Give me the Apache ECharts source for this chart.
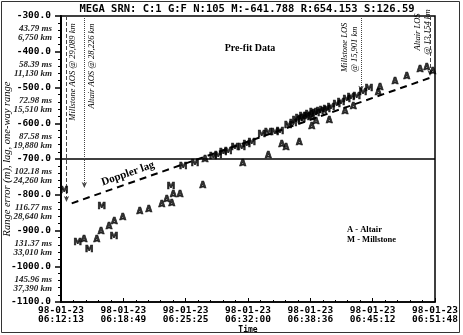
<!DOCTYPE html>
<html>
<head>
<meta charset="utf-8">
<script src="https://cdn.jsdelivr.net/npm/echarts@6/dist/echarts.min.js"></script>
<style>
  html, body { margin: 0; padding: 0; background: #fff; }
  #chart { width: 463px; height: 335px; }
</style>
</head>
<body>
<div id="chart"></div>
<script>
// x values are in tick intervals from 06:12:13 (one interval ~ 6 min 36 s)
const timeLabels = ['98-01-23\n06:12:13', '98-01-23\n06:18:49', '98-01-23\n06:25:25', '98-01-23\n06:32:00',
  '98-01-23\n06:38:36', '98-01-23\n06:45:12', '98-01-23\n06:51:48']
const yTicks = [-300, -400, -500, -600, -700, -800, -900, -1000, -1100]
const lagMs = ['43.79 ms', '58.39 ms', '72.98 ms', '87.58 ms', '102.18 ms', '116.77 ms', '131.37 ms', '145.96 ms']
const rangeKm = ['6,750 km', '11,130 km', '15,510 km', '19,880 km', '24,260 km', '28,640 km', '33,010 km', '37,390 km']

const altairX = [0.369, 0.573, 0.642, 0.770, 0.855, 0.990, 1.263, 1.407, 1.616, 1.696, 1.776, 1.802, 1.909,
  2.273, 2.310, 2.915, 3.326, 3.541, 3.610, 3.823, 4.022, 4.091, 4.304, 4.556, 4.690, 5.118, 5.091, 5.359,
  5.546, 5.760, 5.867, 5.963]
const altairY = [-927, -927, -904, -891, -876, -864, -848, -843, -827, -813, -824, -801, -799,
  -775, -703, -714, -691, -661, -668, -656, -610, -596, -594, -568, -554, -502, -516, -484,
  -470, -451, -445, -456]

const millstoneX = [0.053, 0.268, 0.454, 0.653, 0.850, 1.765, 1.962, 2.150, 2.443, 2.524, 2.604, 2.684, 2.792,
  2.899, 2.979, 3.059, 3.220, 3.326, 3.433, 3.513, 3.647, 3.727, 3.770, 3.818, 3.862, 3.883, 3.942, 3.979,
  4.011, 4.048, 4.091, 4.155, 4.203, 4.263, 4.332, 4.423, 4.492, 4.584, 4.653, 4.744, 4.845, 4.941]
const millstoneY = [-789, -934, -953, -835, -919, -779, -723, -714, -695, -692, -684, -680, -670,
  -670, -661, -654, -633, -628, -626, -624, -608, -602, -594, -588, -591, -582, -582, -577,
  -585, -572, -574, -568, -566, -563, -557, -549, -543, -535, -529, -526, -515, -504]

const dopplerX = [0.172, 5.92]
const dopplerY = [-824, -473]

const zeroLineY = -700

// acquisition / loss of signal lines: x, where the arrow stops, line type
const eventX = [0.088, 0.374, 4.813, 5.92]
const eventEndY = [-820, -781, -512, -468]
const eventType = ['dashed', 'dotted', 'dotted', 'dashed']

const pixelFont = 'DejaVu Sans Mono'
const serif = 'Liberation Serif'

const chart = echarts.init(document.getElementById('chart'))

const letterLabel = (ch) => ({
  show: true,
  position: 'inside',
  formatter: ch,
  color: '#000',
  textBorderColor: '#000',
  textBorderWidth: 0.7,
  fontFamily: 'DejaVu Sans',
  fontWeight: 'bold',
  fontSize: 8.5
})

chart.setOption({
  animation: false,
  grid: {
    left: 61, right: 28, top: 16, bottom: 33,
    outerBoundsMode: 'none',
    show: true, borderColor: '#000', borderWidth: 1.5
  },
  xAxis: {
    type: 'value',
    min: 0, max: 6, interval: 1,
    name: 'Time',
    nameLocation: 'middle',
    nameGap: 24,
    nameMoveOverlap: false,
    nameTextStyle: { fontFamily: pixelFont, fontWeight: 'bold', fontSize: 8, color: '#000' },
    axisLine: { lineStyle: { color: '#000', width: 1.5 } },
    axisTick: { inside: true, length: 4, lineStyle: { color: '#000' } },
    minorTick: { show: true, splitNumber: 5, length: 2, lineStyle: { color: '#000' } },
    splitLine: { show: false },
    axisLabel: {
      formatter: (v) => timeLabels[Math.round(v)],
      fontFamily: pixelFont, fontWeight: 'bold', fontSize: 9.5, lineHeight: 9,
      color: '#000', margin: 4, showMaxLabel: true, showMinLabel: true
    }
  },
  yAxis: {
    type: 'value',
    min: -1100, max: -300, interval: 100,
    name: 'Range error (m), lag, one-way range',
    nameLocation: 'middle',
    nameGap: 48,
    nameMoveOverlap: false,
    nameTextStyle: { fontFamily: serif, fontStyle: 'italic', fontSize: 10.5, color: '#000' },
    axisLine: { lineStyle: { color: '#000', width: 2 } },
    axisTick: { length: 6, lineStyle: { color: '#000', width: 1.5 } },
    minorTick: { show: true, splitNumber: 5, length: 3, lineStyle: { color: '#000' } },
    splitLine: { show: false },
    axisLabel: {
      margin: 10,
      showMaxLabel: true, showMinLabel: true,
      formatter: (v) => v.toFixed(1),
      fontFamily: pixelFont, fontWeight: 'bold', fontSize: 9.5, color: '#000'
    }
  },
  series: [
    {
      name: 'Zero',
      type: 'line',
      data: [[0, zeroLineY], [6, zeroLineY]],
      symbol: 'none',
      lineStyle: { color: '#000', width: 1.5 },
      z: 2
    },
    {
      name: 'Doppler lag',
      type: 'line',
      data: dopplerX.map((x, i) => [x, dopplerY[i]]),
      symbol: 'none',
      lineStyle: { color: '#000', width: 2, type: [7, 5] },
      z: 3,
      markLine: {
        silent: true,
        symbol: ['none', 'arrow'],
        symbolSize: [4, 6],
        label: { show: false },
        data: eventX.map((x, i) => [
          { coord: [x, -300], lineStyle: { type: eventType[i], width: 1, color: '#444' } },
          { coord: [x, eventEndY[i]] }
        ])
      }
    },
    {
      name: 'Altair',
      type: 'scatter',
      data: altairX.map((x, i) => [x, altairY[i]]),
      symbolSize: 6,
      itemStyle: { color: 'rgba(0,0,0,0)' },
      label: letterLabel('A'),
      z: 5
    },
    {
      name: 'Millstone',
      type: 'scatter',
      data: millstoneX.map((x, i) => [x, millstoneY[i]]),
      symbolSize: 6,
      itemStyle: { color: 'rgba(0,0,0,0)' },
      label: letterLabel('M'),
      z: 5
    }
  ]
})

// annotations placed through the chart's own scale
const px = (x, y) => chart.convertToPixel({ gridIndex: 0 }, [x, y])
const topY = px(0, -300)[1]
const lagMid = px(1.075, dopplerY[0] + (1.075 - dopplerX[0]) * (dopplerY[1] - dopplerY[0]) / (dopplerX[1] - dopplerX[0]))
const noteStyle = { fontFamily: serif, fontStyle: 'italic', fontSize: 8.5, fill: '#000' }

// lag and one-way range under each tick label
const tickNotes = lagMs.map((ms, i) => ({
  type: 'text',
  x: 52,
  y: px(0, yTicks[i])[1] + 8.5,
  style: { text: ms + '\n' + rangeKm[i], align: 'right', verticalAlign: 'top', lineHeight: 9,
    fontFamily: serif, fontStyle: 'italic', fontWeight: 'bold', fontSize: 9, fill: '#222' }
}))

chart.setOption({
  graphic: [
    { type: 'rect', shape: { x: 1.5, y: 1.5, width: 458, height: 331 }, style: { fill: 'none', stroke: '#333', lineWidth: 1 }, silent: true },
    { type: 'text', x: 247, y: 9,
      style: { text: 'MEGA SRN: C:1 G:F N:105 M:-641.788 R:654.153 S:126.59', align: 'center', verticalAlign: 'middle',
        fontFamily: pixelFont, fontWeight: 'bold', fontSize: 10.5, fill: '#000' } },
    { type: 'text', x: px(eventX[0], 0)[0] + 6, y: topY + 56, rotation: Math.PI / 2,
      style: Object.assign({ text: 'Millstone AOS @ 29,089 km', align: 'center', verticalAlign: 'middle' }, noteStyle) },
    { type: 'text', x: px(eventX[1], 0)[0] + 7, y: topY + 50, rotation: Math.PI / 2,
      style: Object.assign({ text: 'Altair AOS @ 28,226 km', align: 'center', verticalAlign: 'middle' }, noteStyle) },
    { type: 'text', x: px(eventX[2], 0)[0] - 11, y: topY + 56, rotation: Math.PI / 2,
      style: Object.assign({ text: 'Millstone LOS\n@ 15,901 km', align: 'left', verticalAlign: 'middle', lineHeight: 9.5 }, noteStyle) },
    { type: 'text', x: px(eventX[3], 0)[0] - 7, y: topY + 16, rotation: Math.PI / 2,
      style: Object.assign({ text: 'Altair LOS\n@ 13,154 km', align: 'center', verticalAlign: 'middle', lineHeight: 9.5 }, noteStyle) },
    { type: 'text', x: lagMid[0], y: lagMid[1] - 10, rotation: 0.337,
      style: { text: 'Doppler lag', align: 'center', verticalAlign: 'middle', fontFamily: serif, fontWeight: 'bold', fontSize: 11, fill: '#000' } },
    { type: 'text', x: 250, y: 48,
      style: { text: 'Pre-fit Data', align: 'center', verticalAlign: 'middle', fontFamily: serif, fontWeight: 'bold', fontSize: 10, fill: '#000' } },
    { type: 'text', x: 347, y: 235,
      style: { text: 'A - Altair\nM - Millstone', align: 'left', verticalAlign: 'middle', lineHeight: 10, fontFamily: serif, fontWeight: 'bold', fontSize: 8.5, fill: '#000' } }
  ].concat(tickNotes)
})
</script>
</body>
</html>
